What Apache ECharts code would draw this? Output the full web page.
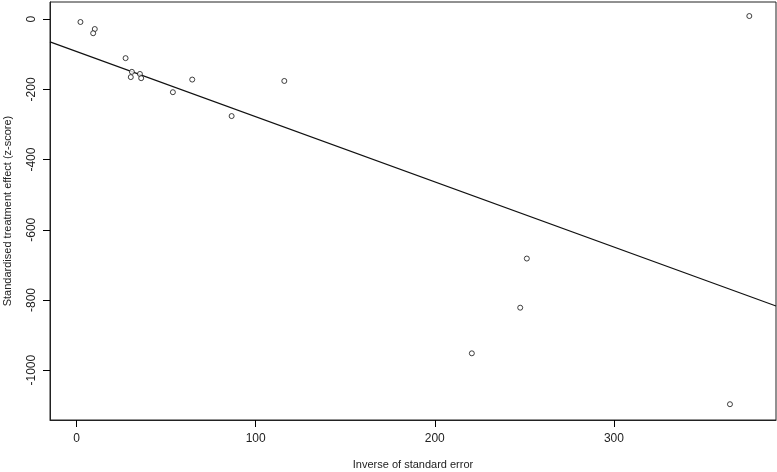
<!DOCTYPE html>
<html>
<head>
<meta charset="utf-8">
<script src="https://cdn.jsdelivr.net/npm/echarts@6/dist/echarts.min.js"></script>
<style>
  html, body { margin: 0; padding: 0; background: #fff; }
  #chart { width: 777px; height: 472px; }
</style>
</head>
<body>
<div id="chart"></div>
<script>
// precision (inverse of standard error) for each study
const precision = [2.2, 10.2, 9.3, 27.4, 30.9, 30.3, 35.4, 36.1, 53.8, 64.6, 86.6, 116.0, 251.4, 247.7, 220.7, 364.8, 375.6]
// standardised effect (z-score)
const zScore = [-8, -28, -40, -111, -150, -165, -156, -168, -208, -172, -276, -176, -682, -822, -952, -1097, 9]

// fitted line (intercept, slope)
const fitIntercept = -92
const fitSlope = -1.857

const xTicks = [0, 100, 200, 300]
const yTicks = [-1000, -800, -600, -400, -200, 0]

const xTitle = 'Inverse of standard error'
const yTitle = 'Standardised treatment effect (z-score)'

const xMin = -14.8
const xMax = 390.5
const yMin = -1142
const yMax = 49

const points = precision.map((x, i) => [x, zScore[i]])
const fitLine = [xMin, xMax].map(x => [x, fitIntercept + fitSlope * x])

const chart = echarts.init(document.getElementById('chart'))
const font = 'Liberation Sans, Arial, sans-serif'

chart.setOption({
  backgroundColor: '#fff',
  animation: false,
  grid: {
    left: 50,
    right: 1,
    top: 2,
    bottom: 52,
    show: true,
    borderColor: '#222',
    borderWidth: 1
  },
  // axis titles as plain text so they don't squeeze the plot area
  graphic: [
    {
      type: 'text',
      x: 413,
      y: 465,
      style: { text: xTitle, font: '11px ' + font, fill: '#222', align: 'center', verticalAlign: 'middle', textAlign: 'center', textVerticalAlign: 'middle' }
    },
    {
      type: 'text',
      x: 8,
      y: 211,
      rotation: Math.PI / 2,
      style: { text: yTitle, font: '11px ' + font, fill: '#222', align: 'center', verticalAlign: 'middle', textAlign: 'center', textVerticalAlign: 'middle' }
    }
  ],
  xAxis: {
    type: 'value',
    min: xMin,
    max: xMax,
    axisLine: { show: true, onZero: false, lineStyle: { color: '#222', width: 1 } },
    splitLine: { show: false },
    axisTick: { show: true, length: 7, customValues: xTicks, lineStyle: { color: '#000', width: 1 } },
    axisLabel: { customValues: xTicks, margin: 13, fontFamily: font, fontSize: 12, color: '#222', formatter: v => String(v) }
  },
  yAxis: {
    type: 'value',
    min: yMin,
    max: yMax,
    axisLine: { show: true, onZero: false, lineStyle: { color: '#222', width: 1 } },
    splitLine: { show: false },
    axisTick: { show: true, length: 7, customValues: yTicks, lineStyle: { color: '#000', width: 1 } },
    axisLabel: { customValues: yTicks, rotate: 90, margin: 12, fontFamily: font, fontSize: 12, color: '#222', formatter: v => String(v) }
  },
  series: [
    {
      type: 'scatter',
      data: points,
      symbol: 'circle',
      symbolSize: 5,
      itemStyle: { color: '#fff', borderColor: '#111', borderWidth: 1 }
    },
    {
      type: 'line',
      data: fitLine,
      symbol: 'none',
      lineStyle: { color: '#111', width: 1.2 },
      z: 1
    }
  ]
})
</script>
</body>
</html>
